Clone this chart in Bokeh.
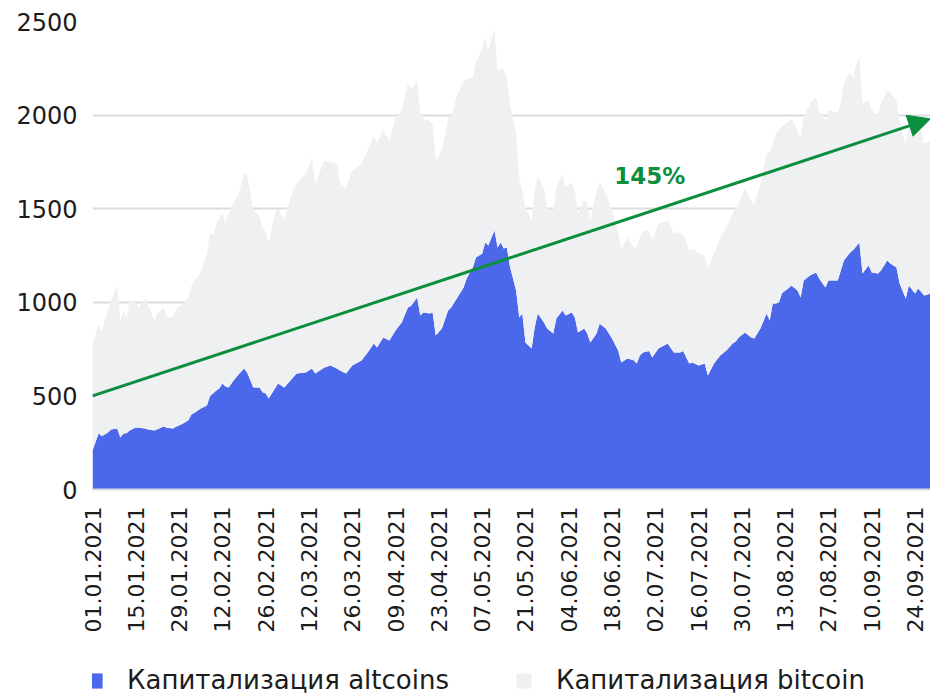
import math
from datetime import datetime
from bokeh.plotting import figure
from bokeh.layouts import column
from bokeh.models import (ColumnDataSource, Range1d, FixedTicker, Legend, LegendItem,
                          Arrow, NormalHead, Label)
from bokeh.embed import file_html
from bokeh.resources import INLINE

# ---- data ----
start_date = "01.01.2021"
tick_labels = ["01.01.2021", "15.01.2021", "29.01.2021", "12.02.2021", "26.02.2021",
               "12.03.2021", "26.03.2021", "09.04.2021", "23.04.2021", "07.05.2021",
               "21.05.2021", "04.06.2021", "18.06.2021", "02.07.2021", "16.07.2021",
               "30.07.2021", "13.08.2021", "27.08.2021", "10.09.2021", "24.09.2021"]
y_ticks = [0, 500, 1000, 1500, 2000, 2500]

days = [0, 2, 3, 5, 6, 8, 9, 10, 11, 12,
        14, 15, 17, 18, 20, 21, 23, 24, 26, 27,
        29, 31, 32, 33, 35, 37, 38, 39, 40, 41,
        42, 43, 44, 46, 47, 49, 50, 52, 54, 55,
        56, 57, 59, 60, 62, 64, 66, 69, 71, 72,
        75, 77, 79, 80, 82, 84, 87, 89, 91, 92,
        94, 96, 98, 100, 102, 103, 105, 106, 107, 109,
        110, 111, 113, 115, 116, 118, 120, 121, 123, 124,
        126, 127, 128, 130, 131, 132, 133, 134, 135, 137,
        138, 139, 140, 142, 143, 144, 146, 147, 149, 150,
        152, 153, 155, 156, 157, 159, 160, 161, 163, 164,
        166, 168, 170, 171, 173, 175, 176, 177, 178, 180,
        181, 183, 185, 186, 188, 190, 191, 193, 194, 196,
        198, 199, 201, 203, 205, 207, 208, 209, 211, 213,
        214, 216, 218, 219, 220, 221, 222, 223, 225, 226,
        228, 229, 230, 232, 234, 235, 237, 238, 241, 242,
        243, 245, 246, 247, 248, 249, 251, 252, 254, 255,
        257, 258, 260, 261, 263, 264, 266, 267, 269, 271]

altcoins = [208, 300, 285, 305, 320, 326, 278, 299, 300, 315,
            331, 330, 326, 320, 315, 322, 337, 330, 326, 335,
            350, 370, 400, 410, 433, 449, 500, 513, 529, 540,
            566, 550, 545, 590, 610, 646, 625, 545, 545, 520,
            513, 486, 540, 566, 545, 582, 620, 625, 646, 620,
            652, 662, 646, 636, 620, 662, 689, 732, 780, 759,
            812, 796, 849, 892, 972, 980, 1026, 929, 946, 940,
            946, 823, 860, 956, 972, 1026, 1079, 1127, 1186, 1239,
            1260, 1320, 1303, 1384, 1293, 1320, 1287, 1293, 1190, 1063,
            919, 940, 785, 753, 866, 940, 892, 860, 833, 913,
            956, 929, 946, 919, 839, 860, 833, 785, 833, 886,
            860, 807, 742, 678, 700, 690, 673, 716, 732, 740,
            705, 753, 770, 780, 732, 732, 740, 673, 678, 662,
            673, 609, 673, 716, 742, 780, 790, 812, 839, 812,
            807, 860, 940, 903, 994, 994, 1000, 1050, 1074, 1090,
            1063, 1026, 1116, 1143, 1159, 1127, 1079, 1116, 1116, 1170,
            1223, 1266, 1280, 1300, 1320, 1154, 1197, 1159, 1154, 1170,
            1223, 1207, 1186, 1100, 1020, 1090, 1047, 1074, 1036, 1047]

total_cap = [780, 880, 840, 960, 1010, 1090, 903, 956, 919, 1010,
             999, 972, 1020, 983, 903, 940, 972, 919, 919, 967,
             990, 1020, 1090, 1116, 1159, 1260, 1372, 1357, 1420, 1447,
             1474, 1426, 1474, 1544, 1565, 1688, 1680, 1490, 1460, 1400,
             1367, 1320, 1470, 1500, 1437, 1560, 1634, 1688, 1775, 1634,
             1757, 1747, 1740, 1640, 1608, 1704, 1741, 1811, 1891, 1854,
             1918, 1864, 1987, 2025, 2169, 2142, 2185, 2009, 1982, 1970,
             1950, 1757, 1811, 1982, 1998, 2110, 2180, 2196, 2200, 2281,
             2356, 2415, 2345, 2463, 2238, 2245, 2245, 2201, 2062, 1902,
             1667, 1590, 1506, 1437, 1600, 1677, 1613, 1506, 1490, 1613,
             1688, 1613, 1640, 1597, 1474, 1544, 1530, 1437, 1597, 1640,
             1581, 1490, 1367, 1287, 1346, 1293, 1293, 1350, 1384, 1384,
             1330, 1420, 1430, 1437, 1367, 1370, 1367, 1277, 1287, 1260,
             1250, 1180, 1260, 1346, 1400, 1474, 1500, 1530, 1608, 1544,
             1520, 1634, 1795, 1800, 1848, 1902, 1920, 1945, 1965, 1982,
             1918, 1880, 1987, 2062, 2094, 2025, 1971, 2025, 2015, 2068,
             2169, 2228, 2196, 2276, 2308, 2062, 2078, 2025, 1998, 2062,
             2131, 2115, 2078, 1971, 1848, 1934, 1880, 1955, 1848, 1860]

bitcoin = [t - a for t, a in zip(total_cap, altcoins)]

trend_start_value = 500
trend_end_value = 1980
trend_label = "145%"
series_names = ["Капитализация altcoins", "Капитализация bitcoin"]

# ---- style ----
BLUE = "#4c68ea"
GREY = "#eff0f2"
GREEN = "#0b8f3f"
TEXT = "#1c1c1c"
FONT = "DejaVu Sans"
W = 930
MAIN_H = 640
LEG_H = 56

t0 = datetime.strptime(start_date, "%d.%m.%Y")
tick_pos = [(datetime.strptime(s, "%d.%m.%Y") - t0).days for s in tick_labels]

src = ColumnDataSource(dict(day=days, altcoins=altcoins, bitcoin=bitcoin))

p = figure(width=W, height=MAIN_H, output_backend="svg", toolbar_location=None,
           x_range=Range1d(0, days[-1]), y_range=Range1d(0, 2500),
           min_border_left=92, min_border_right=0, min_border_top=21,
           min_border_bottom=MAIN_H - 489)
p.outline_line_color = None
p.background_fill_color = "white"
p.border_fill_color = "white"

rs = p.varea_stack(stackers=["altcoins", "bitcoin"], x="day", color=[BLUE, GREY], source=src)

# axes
p.xaxis.ticker = FixedTicker(ticks=tick_pos)
p.xaxis.major_label_overrides = {tp: lab for tp, lab in zip(tick_pos, tick_labels)}
p.xaxis.major_label_orientation = math.pi / 2
p.xaxis.major_label_text_font = FONT
p.xaxis.major_label_text_font_size = "22px"
p.xaxis.major_label_text_color = TEXT
p.xaxis.major_label_standoff = 17
p.xaxis.axis_line_color = "#d8d9dd"
p.xaxis.axis_line_width = 2
p.xaxis.major_tick_line_color = None
p.xaxis.minor_tick_line_color = None
p.xaxis.major_tick_out = 0
p.xaxis.major_tick_in = 0

p.yaxis.ticker = FixedTicker(ticks=y_ticks)
p.yaxis.major_label_text_font = FONT
p.yaxis.major_label_text_font_size = "24px"
p.yaxis.major_label_text_color = TEXT
p.yaxis.major_label_standoff = 15
p.yaxis.axis_line_color = None
p.yaxis.major_tick_line_color = None
p.yaxis.minor_tick_line_color = None
p.yaxis.major_tick_out = 0
p.yaxis.major_tick_in = 0

p.xgrid.grid_line_color = None
p.ygrid.ticker = FixedTicker(ticks=y_ticks)
p.ygrid.grid_line_color = "#dcdcdc"
p.ygrid.grid_line_width = 2

# trend arrow and label
p.add_layout(Arrow(end=NormalHead(size=22, fill_color=GREEN, line_color=GREEN, line_width=1),
                   x_start=days[0], y_start=trend_start_value,
                   x_end=days[-1], y_end=trend_end_value,
                   line_color=GREEN, line_width=3))
p.add_layout(Label(x=168.7, y=1677, text=trend_label, text_font=FONT,
                   text_font_size="23px", text_font_style="bold",
                   text_color=GREEN, text_baseline="middle", text_align="left"))

# legend strip (separate figure; its areas lie outside its visible range)
pl = figure(width=W, height=LEG_H, output_backend="svg", toolbar_location=None,
            x_range=Range1d(-20, -10), y_range=Range1d(0, 1),
            x_axis_location=None, y_axis_location=None,
            min_border_left=0, min_border_right=0, min_border_top=0, min_border_bottom=0)
pl.outline_line_color = None
pl.xgrid.grid_line_color = None
pl.ygrid.grid_line_color = None
rl = pl.varea_stack(stackers=["altcoins", "bitcoin"], x="day", color=[BLUE, GREY], source=src)

legend = Legend(items=[LegendItem(label=series_names[0], renderers=[rl[0]]),
                       LegendItem(label=series_names[1], renderers=[rl[1]])],
                orientation="horizontal", location=(-7, 1),
                glyph_width=19, glyph_height=19, label_standoff=23, spacing=65,
                padding=0, margin=0, border_line_color=None,
                background_fill_alpha=0, label_text_font=FONT,
                label_text_font_size="26px", label_text_color=TEXT)
pl.add_layout(legend)

layout = column(p, pl, spacing=0)
open("out.html", "w").write(file_html(layout, INLINE))
